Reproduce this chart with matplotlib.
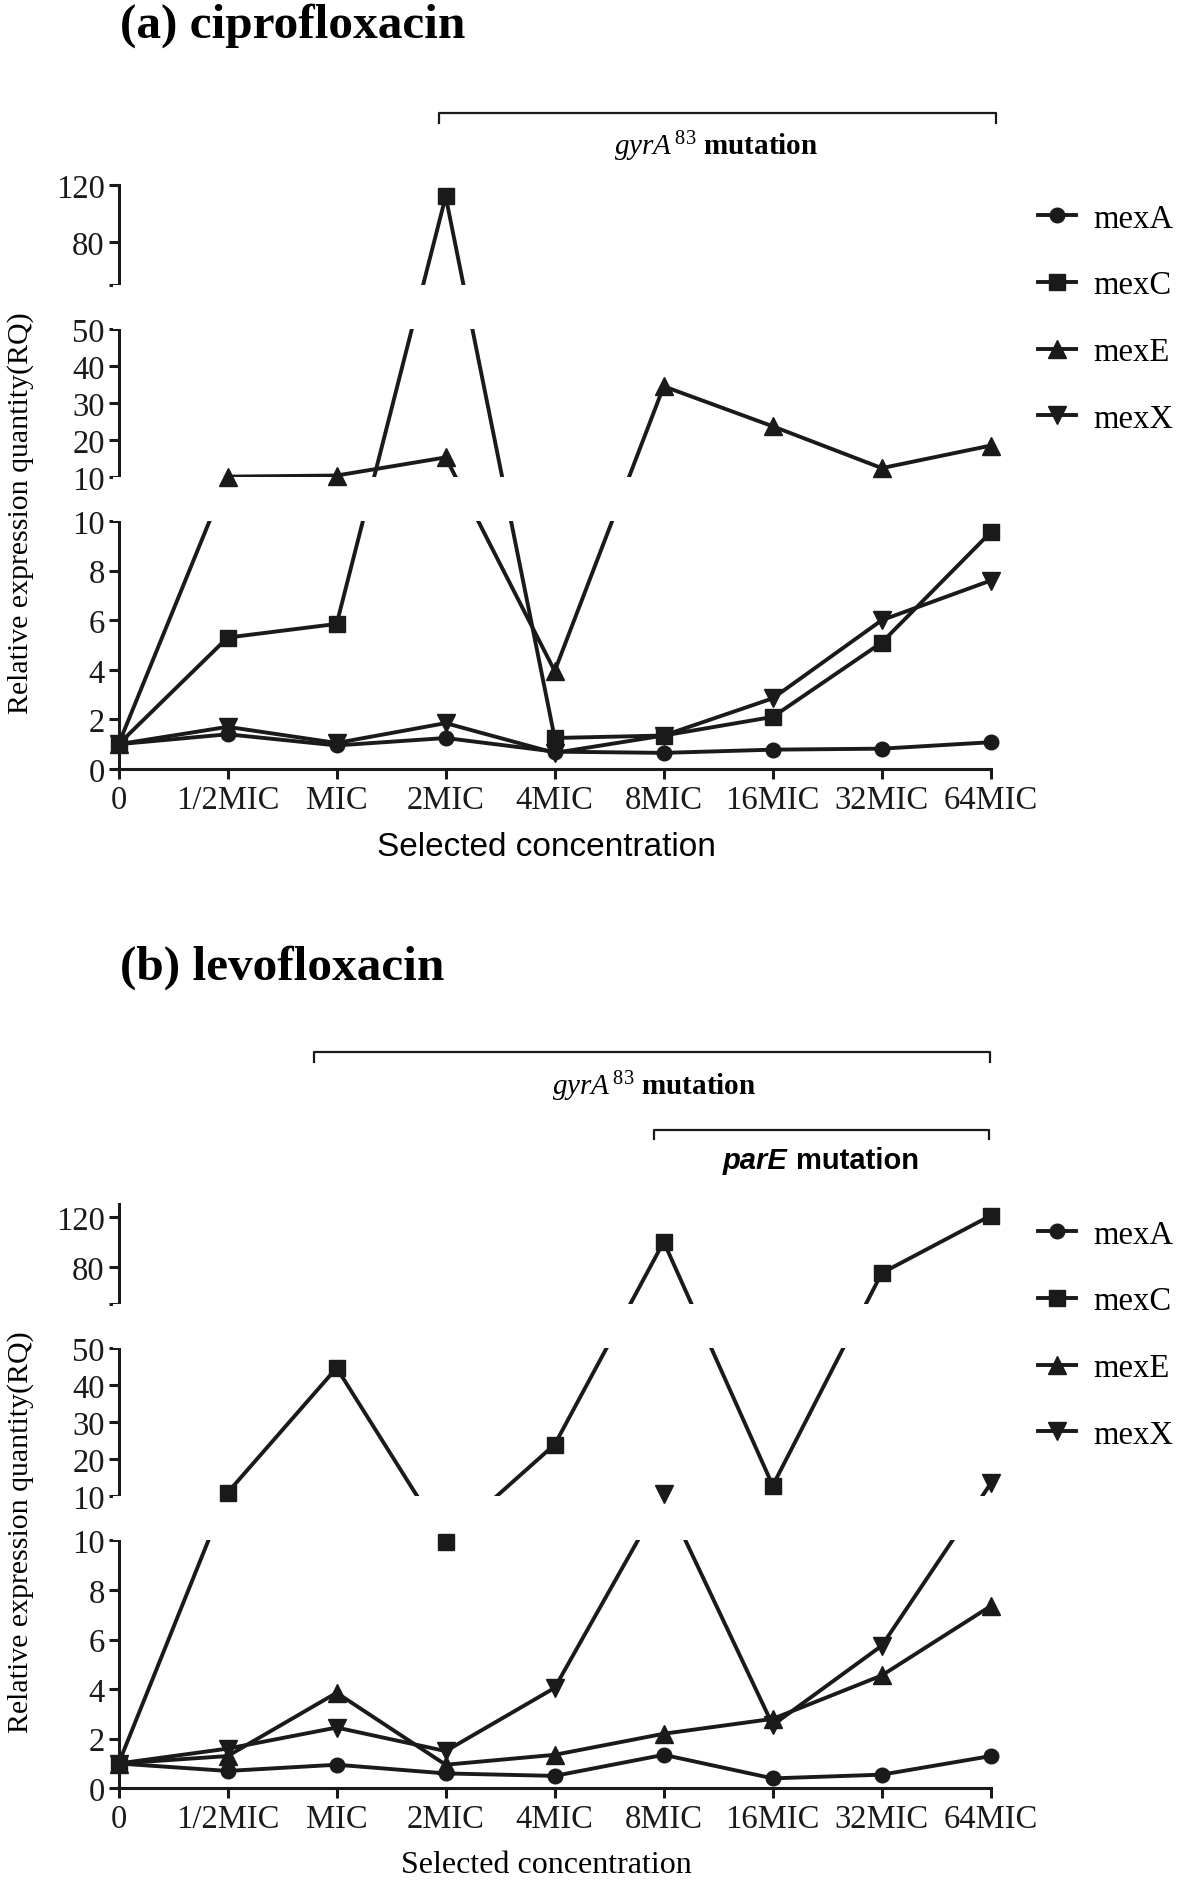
import matplotlib
matplotlib.use('Agg')
import matplotlib.pyplot as plt
import matplotlib.transforms as mtransforms
from matplotlib.lines import Line2D
from matplotlib.patches import Rectangle
import numpy as np

plt.rcParams['font.family'] = ['Liberation Serif', 'DejaVu Serif']
plt.rcParams['mathtext.fontset'] = 'custom'
plt.rcParams['mathtext.rm'] = 'Liberation Serif'
plt.rcParams['mathtext.it'] = 'Liberation Serif:italic'

categories = ['0', '1/2MIC', 'MIC', '2MIC', '4MIC', '8MIC', '16MIC', '32MIC', '64MIC']
genes = ['mexA', 'mexC', 'mexE', 'mexX']
markers = ['o', 's', '^', 'v']
msizes = [10.5, 11, 12.5, 12.5]

# (a) ciprofloxacin
cip_mexA = [1.0, 1.4, 0.95, 1.25, 0.7, 0.65, 0.78, 0.82, 1.08]
cip_mexC = [1.0, 5.3, 5.85, 112, 1.25, 1.35, 2.1, 5.1, 9.55]
cip_mexE = [1.0, 10.1, 10.4, 15.3, 3.95, 34.5, 23.7, 12.4, 18.5]
cip_mexX = [1.0, 1.7, 1.05, 1.85, 0.65, 1.35, 2.85, 6.0, 7.6]

# (b) levofloxacin
lev_mexA = [1.0, 0.7, 0.95, 0.6, 0.5, 1.35, 0.4, 0.55, 1.3]
lev_mexC = [1.0, 11.0, 44.7, 9.95, 24.0, 100, 12.9, 75, 121]
lev_mexE = [1.0, 1.3, 3.85, 0.95, 1.35, 2.2, 2.8, 4.55, 7.35]
lev_mexX = [1.0, 1.6, 2.45, 1.5, 4.05, 10.5, 2.55, 5.75, 13.5]

COLOR = '#1a1a1a'
EPS = 1e-3
W, H = 1181, 1881


def broken_scale(top):
    # Prism style segmented axis: 0-10 | 10-50 | 50-top, gaps between
    vals = np.array([0, 10, 10 + EPS, 50, 50 + EPS, top])
    vis = np.array([0, 248, 292, 440, 484, 584])

    def fwd(v):
        return np.interp(v, vals, vis)

    def inv(y):
        return np.interp(y, vis, vals)
    return fwd, inv


def draw_panel(fig, rect, series, top):
    ax = fig.add_axes(rect)
    ax.set_yscale('function', functions=broken_scale(top))
    x = np.arange(len(categories))
    for vals, mk, ms in zip(series, markers, msizes):
        ax.plot(x, vals, color=COLOR, lw=2.8, zorder=2, clip_on=False)
        ax.plot(x, vals, linestyle='none', marker=mk, ms=ms, color=COLOR,
                zorder=4, clip_on=False)
    ax.set_xlim(0, len(categories) - 1)
    ax.set_ylim(0, top)

    # hide lines and the spine inside the two gaps
    tr = mtransforms.blended_transform_factory(ax.transAxes, ax.transData)
    for lo in (10, 50):
        ax.add_patch(Rectangle((-0.006, lo), 1.006, EPS, transform=tr,
                               facecolor='white', edgecolor='none',
                               zorder=3, clip_on=False))

    yticks = [0, 2, 4, 6, 8, 10, 10 + EPS, 20, 30, 40, 50, 50 + EPS, 80, 120]
    ylabels = ['0', '2', '4', '6', '8', '10', '10', '20', '30', '40', '50', '', '80', '120']
    ax.set_yticks(yticks)
    ax.set_yticklabels(ylabels)
    ax.yaxis.set_minor_locator(plt.NullLocator())
    ax.set_xticks(x)
    ax.set_xticklabels(categories)

    for s in ['top', 'right']:
        ax.spines[s].set_visible(False)
    for s in ['left', 'bottom']:
        ax.spines[s].set_linewidth(2.2)
        ax.spines[s].set_color(COLOR)
    ax.tick_params(axis='both', direction='out', length=7, width=2.2,
                   color=COLOR, labelsize=23.5, labelcolor=COLOR)
    ax.tick_params(axis='y', pad=3)
    ax.tick_params(axis='x', pad=4)
    return ax


def bracket(ax, x0, x1, yh, yt):
    tr = mtransforms.blended_transform_factory(ax.transData, ax.transAxes)
    ax.plot([x0, x0, x1, x1], [yt, yh, yh, yt], color=COLOR, lw=1.6,
            transform=tr, clip_on=False)


def add_legend(fig, top_px):
    handles = [Line2D([], [], color=COLOR, lw=2.8, marker=mk, ms=ms)
               for mk, ms in zip(markers, msizes)]
    fig.legend(handles, genes, loc='upper left',
               bbox_to_anchor=(1038 / W, 1 - top_px / H), frameon=False,
               numpoints=1, handlelength=1.15, handletextpad=0.55,
               labelspacing=1.11, borderpad=0, borderaxespad=0,
               fontsize=23.5)


fig = plt.figure(figsize=(W / 100, H / 100), dpi=100)

ax_w = (990.8 - 118.6) / W
ax_h = 584 / H

# ---- (a) ciprofloxacin ----
ax1 = draw_panel(fig, [118.6 / W, (H - 770) / H, ax_w, ax_h],
                 [cip_mexA, cip_mexC, cip_mexE, cip_mexX], 120)
ax1.set_xlabel('Selected concentration', family='Liberation Sans',
               fontsize=24, va='center')
ax1.xaxis.set_label_coords(0.49, -0.132)
ax1.set_ylabel('Relative expression quantity(RQ)', fontsize=21.5, va='center')
ax1.yaxis.set_label_coords(-0.112, 0.44)
fig.text(120 / W, 1 - 38 / H, '(a) ciprofloxacin', fontsize=35.5,
         fontweight='bold', va='baseline')
bracket(ax1, 2.94, 8.05, 1.123, 1.106)
ax1.text(5.48, 1.067, r'$\mathit{gyrA}^{\,\mathrm{83}}$ mutation', fontsize=21,
         fontweight='bold', ha='center', va='center',
         transform=mtransforms.blended_transform_factory(ax1.transData, ax1.transAxes))
add_legend(fig, 204)

# ---- (b) levofloxacin ----
ax2 = draw_panel(fig, [118.6 / W, (H - 1789.3) / H, ax_w, ax_h],
                 [lev_mexA, lev_mexC, lev_mexE, lev_mexX], 130)
ax2.set_xlabel('Selected concentration', fontsize=23, va='center')
ax2.xaxis.set_label_coords(0.49, -0.131)
ax2.set_ylabel('Relative expression quantity(RQ)', fontsize=21.5, va='center')
ax2.yaxis.set_label_coords(-0.112, 0.44)
fig.text(120 / W, 1 - 980 / H, '(b) levofloxacin', fontsize=35.5,
         fontweight='bold', va='baseline')
tr2 = mtransforms.blended_transform_factory(ax2.transData, ax2.transAxes)
bracket(ax2, 1.79, 7.99, 1.261, 1.243)
ax2.text(4.91, 1.203, r'$\mathit{gyrA}^{\,\mathrm{83}}$ mutation', fontsize=21,
         fontweight='bold', ha='center', va='center', transform=tr2)
bracket(ax2, 4.91, 7.98, 1.127, 1.112)
ax2.text(6.13, 1.075, 'parE', family='Liberation Sans', fontsize=21,
         fontweight='bold', style='italic', ha='right', va='center', transform=tr2)
ax2.text(6.215, 1.075, 'mutation', family='Liberation Sans', fontsize=21,
         fontweight='bold', ha='left', va='center', transform=tr2)
add_legend(fig, 1220)

fig.savefig('out.png', dpi=100)
